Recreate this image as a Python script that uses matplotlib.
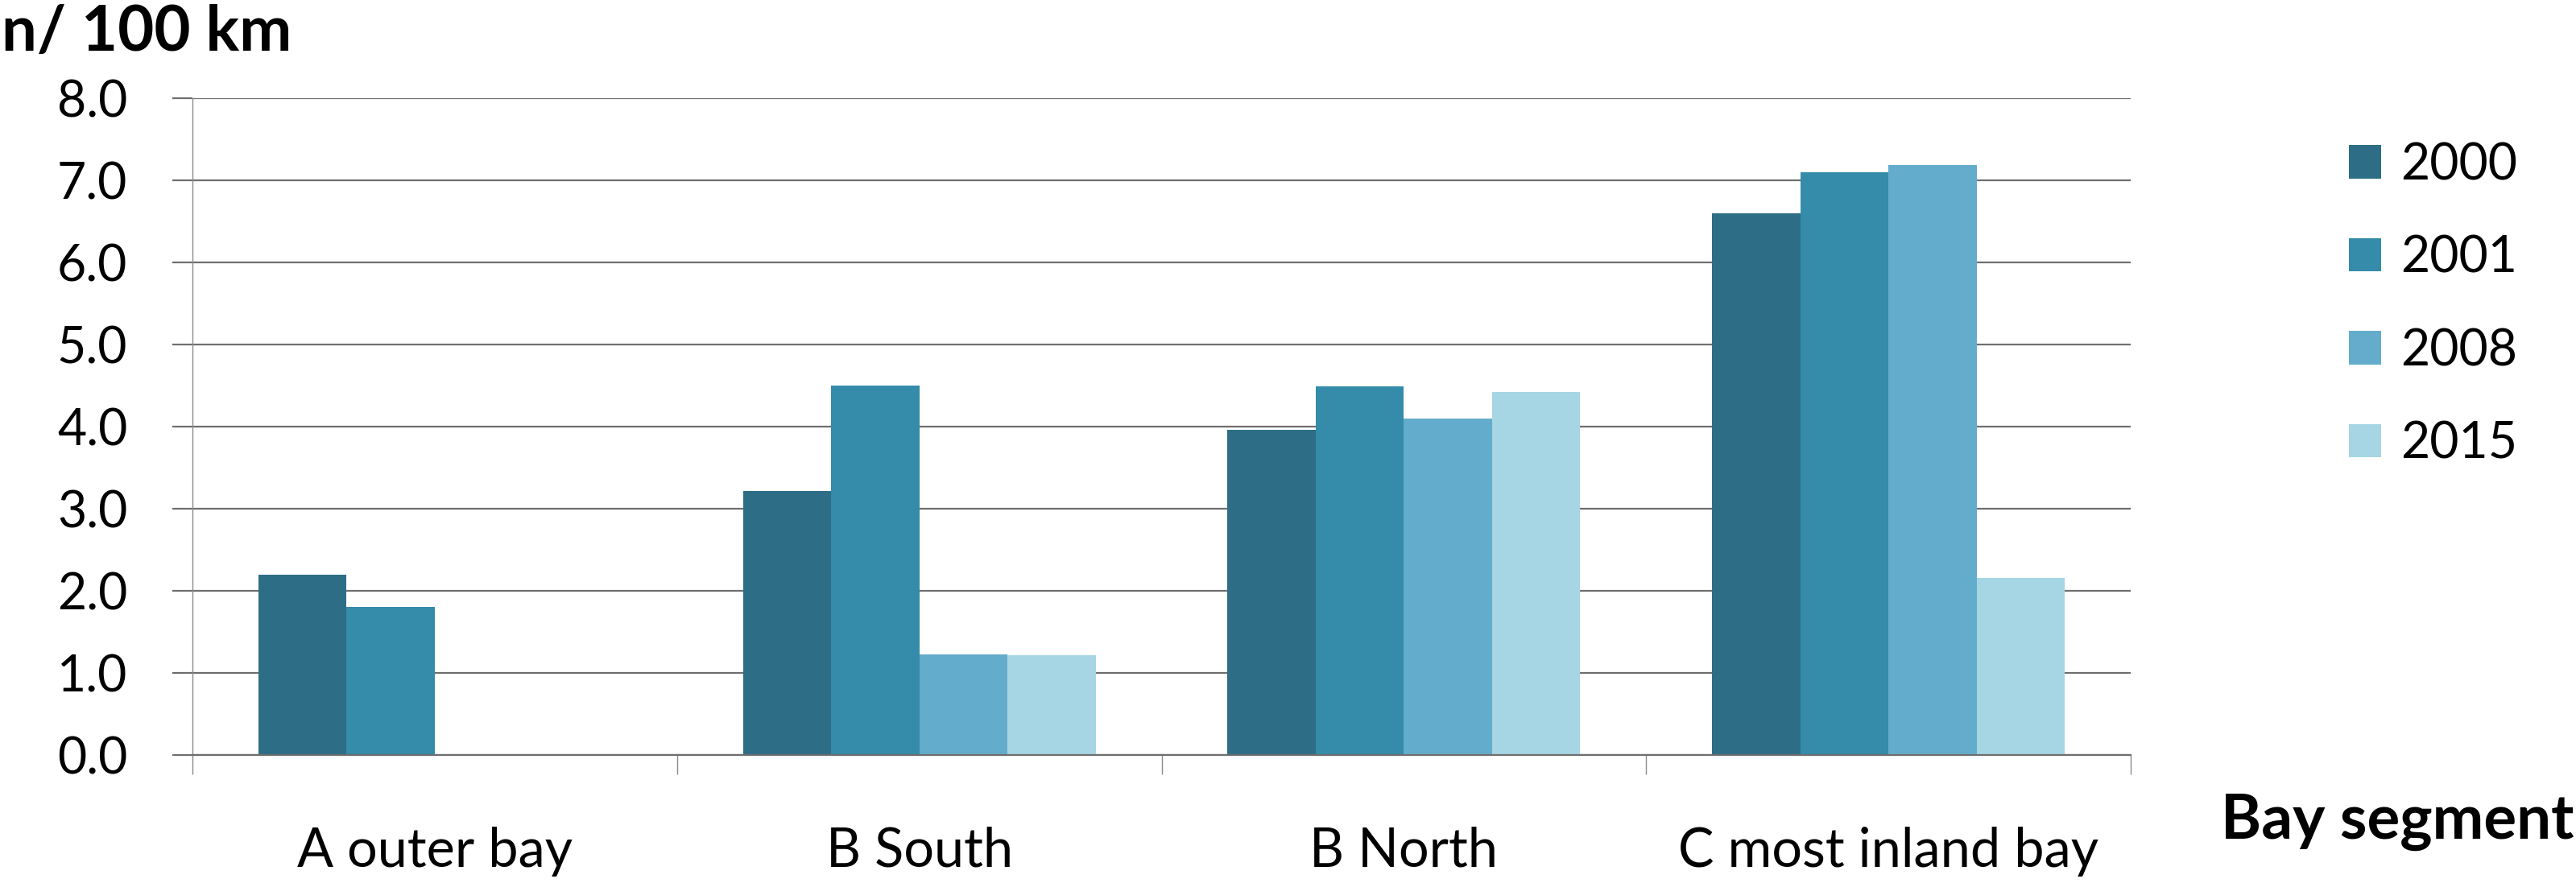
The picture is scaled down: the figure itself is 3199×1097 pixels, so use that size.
import numpy as np
import matplotlib
matplotlib.use("Agg")
import matplotlib.pyplot as plt
from matplotlib.ticker import FixedLocator

plt.rcParams['font.family'] = ['Lato', 'DejaVu Sans']

# data
segments = ["A outer bay", "B South", "B North", "C most inland bay"]
years = ["2000", "2001", "2008", "2015"]
v2000 = [2.20, 3.22, 3.96, 6.60]
v2001 = [1.80, 4.50, 4.49, 7.10]
v2008 = [0.0, 1.23, 4.10, 7.19]
v2015 = [0.0, 1.22, 4.42, 2.16]
series = [v2000, v2001, v2008, v2015]
colors = ["#2D6E86", "#348BAA", "#64ACCB", "#A6D5E3"]

W, H = 3199, 1097
fig = plt.figure(figsize=(W / 100, H / 100), dpi=100)
ax = fig.add_axes([239 / W, 1 - 938 / H, (2646 - 239) / W, (938 - 122) / H])

x = np.arange(len(segments))
bw = 0.182
for j, vals in enumerate(series):
    ax.bar(x + (j - 1.5) * bw, vals, width=bw, color=colors[j],
           label=years[j], zorder=3, linewidth=0)

ax.set_xlim(-0.5, len(segments) - 0.5)
ax.set_ylim(0, 8)
ax.set_yticks(np.arange(0, 8.01, 1.0))
ax.set_yticklabels([f"{v:.1f}" for v in np.arange(0, 8.01, 1.0)])
ax.yaxis.grid(True, color="#6E6E6E", linewidth=1.6, zorder=1)
ax.set_axisbelow(True)

for s in ["top", "right"]:
    ax.spines[s].set_visible(False)
ax.spines["left"].set_color("#8A8A8A")
ax.spines["left"].set_linewidth(1.0)
ax.spines["bottom"].set_color("#6E6E6E")
ax.spines["bottom"].set_linewidth(1.6)
ax.spines["bottom"].set_zorder(4)

ax.tick_params(axis="y", length=18, width=1.6, color="#6E6E6E",
               labelsize=45, pad=40)
ax.set_xticks(x)
ax.set_xticklabels(segments)
ax.xaxis.set_minor_locator(FixedLocator(np.arange(-0.5, len(segments), 1.0)))
ax.tick_params(axis="x", which="major", length=0, labelsize=48, pad=64)
ax.tick_params(axis="x", which="minor", length=17, width=1.0, color="#8A8A8A")

fig.text(2 / W, 1 - 63 / H, "n/ 100 km", fontsize=56, fontweight="bold",
         ha="left", va="baseline")
fig.text(3196 / W, 1 - 1042 / H, "Bay segment", fontsize=55, fontweight="bold",
         ha="right", va="baseline")

fig.legend(loc="upper left", bbox_to_anchor=(2917 / W, 1 - 176 / H),
           bbox_transform=fig.transFigure, frameon=False, fontsize=45,
           handlelength=0.64, handleheight=0.64, handletextpad=0.38,
           labelspacing=0.92, borderpad=0, borderaxespad=0)

fig.savefig("out.png", dpi=100, facecolor="white")
